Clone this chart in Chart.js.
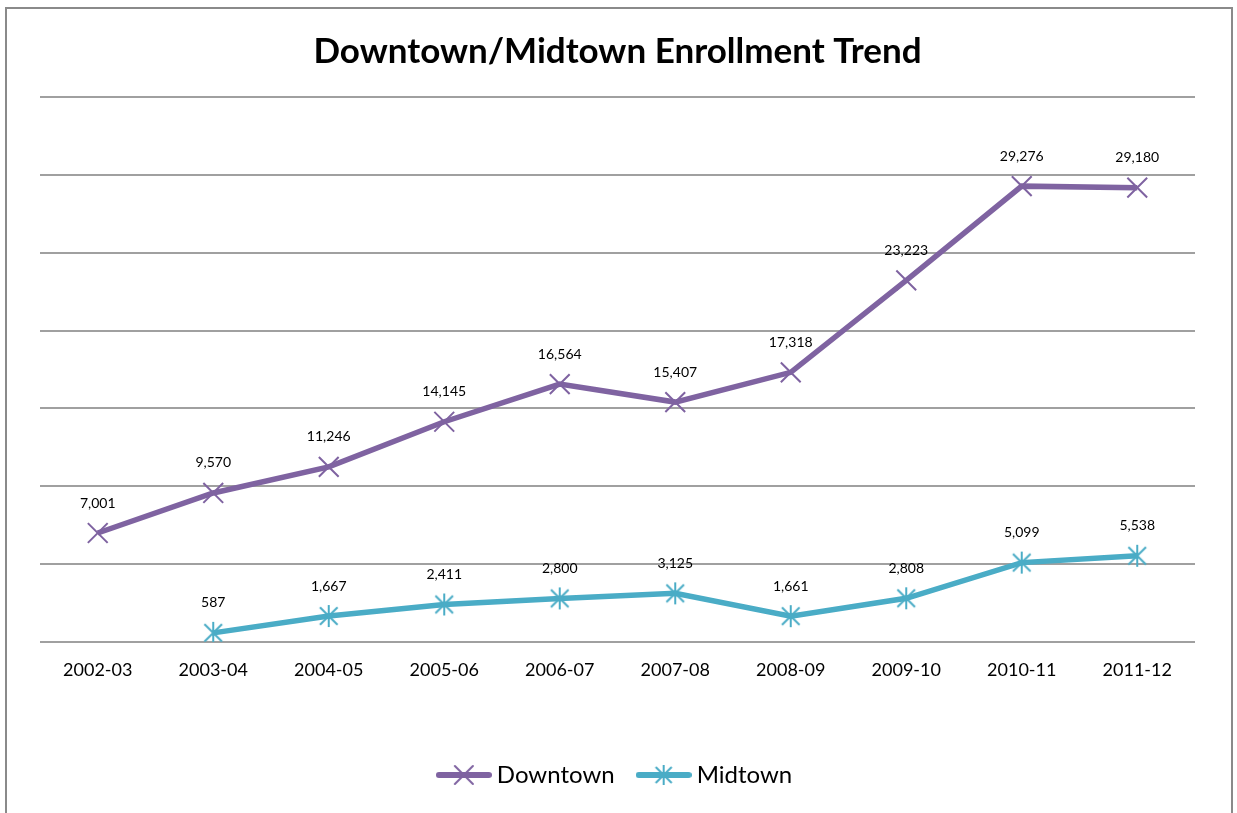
<!DOCTYPE html>
<html>
<head>
<meta charset="utf-8">
<script src="https://cdn.jsdelivr.net/npm/chart.js@4/dist/chart.umd.min.js"></script>
<style>
  html, body { margin: 0; padding: 0; background: #fff; overflow: hidden; }
  #wrap { position: relative; width: 1237px; height: 813px; }
  #frame { position: absolute; left: 5px; top: 7px; width: 1224px; height: 830px; border: 2px solid #8a8a8a; box-sizing: content-box; }
  #c { position: absolute; left: 0; top: 0; }
</style>
</head>
<body>
<div id="wrap">
  <div id="frame"></div>
  <canvas id="c" width="1237" height="813"></canvas>
</div>
<script>
// School years on the x axis
const years = ['2002-03', '2003-04', '2004-05', '2005-06', '2006-07', '2007-08', '2008-09', '2009-10', '2010-11', '2011-12'];
// Enrollment per campus (Midtown opened in 2003-04)
const downtown = [7001, 9570, 11246, 14145, 16564, 15407, 17318, 23223, 29276, 29180];
const midtown = [null, 587, 1667, 2411, 2800, 3125, 1661, 2808, 5099, 5538];

const PURPLE = '#7f63a1';
const TEAL = '#4aacc6';
const FONT = 'Lato, "Open Sans", sans-serif';

// Asterisk marker: an X with a vertical stroke through it
function starMarker(color, size) {
  const c = document.createElement('canvas');
  c.width = size; c.height = size;
  const g = c.getContext('2d');
  const m = size / 2, r = size / 2 - 1;
  g.strokeStyle = color; g.lineWidth = 2;
  g.beginPath();
  g.moveTo(m - r * 0.8, m - r * 0.8); g.lineTo(m + r * 0.8, m + r * 0.8);
  g.moveTo(m + r * 0.8, m - r * 0.8); g.lineTo(m - r * 0.8, m + r * 0.8);
  g.moveTo(m, m - r); g.lineTo(m, m + r);
  g.stroke();
  return c;
}
function xMarker(ctx, x, y, r, color) {
  ctx.strokeStyle = color; ctx.lineWidth = 2;
  ctx.beginPath();
  ctx.moveTo(x - r, y - r); ctx.lineTo(x + r, y + r);
  ctx.moveTo(x + r, y - r); ctx.lineTo(x - r, y + r);
  ctx.stroke();
}
// Legend swatch: a short thick line with the series marker in the middle
function legendSwatch(color, kind) {
  const c = document.createElement('canvas');
  c.width = 56; c.height = 24;
  const g = c.getContext('2d');
  g.strokeStyle = color; g.lineWidth = 6; g.lineCap = 'round';
  g.beginPath(); g.moveTo(3, 12); g.lineTo(53, 12); g.stroke();
  if (kind === 'x') {
    xMarker(g, 28, 12, 9, color);
  } else {
    g.drawImage(starMarker(color, 22), 17, 1);
  }
  return c;
}

const midStar = starMarker(TEAL, 24);
const swatches = [legendSwatch(PURPLE, 'x'), legendSwatch(TEAL, 'star')];

// Value labels above every point
const valueLabels = {
  id: 'valueLabels',
  afterDatasetsDraw(chart) {
    const ctx = chart.ctx;
    ctx.save();
    ctx.font = '14px ' + FONT;
    ctx.fillStyle = '#000';
    ctx.textAlign = 'center';
    ctx.textBaseline = 'middle';
    chart.data.datasets.forEach((ds, i) => {
      chart.getDatasetMeta(i).data.forEach((pt, j) => {
        const v = ds.data[j];
        if (v === null || v === undefined) return;
        ctx.fillText(v.toLocaleString('en-US'), pt.x, pt.y - 30);
      });
    });
    ctx.restore();
  }
};

new Chart(document.getElementById('c'), {
  type: 'line',
  data: {
    labels: years,
    datasets: [
      {
        label: 'Downtown',
        data: downtown,
        borderColor: PURPLE,
        backgroundColor: PURPLE,
        borderWidth: 5.5,
        pointStyle: 'crossRot',
        pointRadius: 14,
        pointBorderWidth: 2,
        pointBorderColor: PURPLE,
        tension: 0
      },
      {
        label: 'Midtown',
        data: midtown,
        borderColor: TEAL,
        backgroundColor: TEAL,
        borderWidth: 5.5,
        pointStyle: midStar,
        pointRadius: 12,
        tension: 0
      }
    ]
  },
  options: {
    responsive: false,
    animation: false,
    layout: { padding: { left: 40, right: 42, top: 0, bottom: 16 } },
    plugins: {
      title: {
        display: true,
        text: 'Downtown/Midtown Enrollment Trend',
        color: '#000',
        font: { family: FONT, size: 35, weight: 'bold', lineHeight: 1.2 },
        padding: { top: 31, bottom: 24 }
      },
      legend: {
        position: 'bottom',
        labels: {
          color: '#000',
          font: { family: FONT, size: 24 },
          usePointStyle: true,
          pointStyleWidth: 42,
          boxHeight: 24,
          padding: 10,
          generateLabels(chart) {
            const n = chart.data.datasets.length;
            return chart.data.datasets.map((ds, i) => ({
              // an em space widens the gap before the next entry
              text: i < n - 1 ? ds.label + '\u2003' : ds.label,
              fillStyle: ds.borderColor,
              strokeStyle: ds.borderColor,
              fontColor: '#000',
              lineWidth: 0,
              pointStyle: swatches[i],
              datasetIndex: i,
              hidden: false
            }));
          }
        }
      },
      tooltip: { enabled: false }
    },
    scales: {
      x: {
        offset: true,
        grid: { display: false, drawTicks: false },
        border: { display: false },
        ticks: { color: '#000', font: { family: FONT, size: 18 }, padding: 17 },
        afterFit(scale) { scale.height = 111; }
      },
      y: {
        min: 0,
        max: 35000,
        ticks: { display: false, stepSize: 5000 },
        grid: { color: '#a0a0a0', lineWidth: 2, drawTicks: false },
        border: { display: false },
        afterFit(scale) { scale.width = 0; }
      }
    }
  },
  plugins: [valueLabels]
});
</script>
</body>
</html>
